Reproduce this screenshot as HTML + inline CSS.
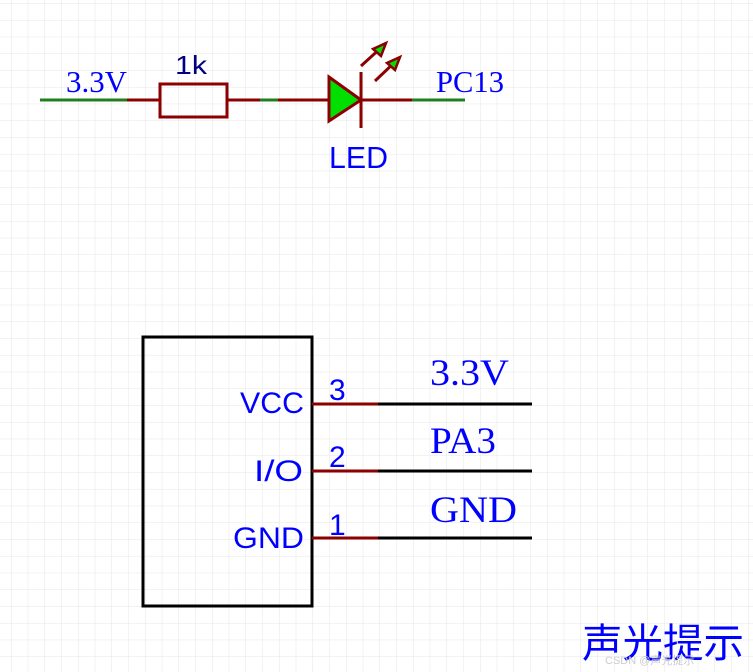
<!DOCTYPE html>
<html><head><meta charset="utf-8"><style>
html,body{margin:0;padding:0;background:#fff;width:753px;height:672px;overflow:hidden}
</style></head><body>
<svg width="753" height="672" xmlns="http://www.w3.org/2000/svg">
<defs><pattern id="g" x="11" y="3.2" width="16.75" height="16.75" patternUnits="userSpaceOnUse">
<path d="M0 0H16.75M0 0V16.75" stroke="#e6e6e6" stroke-width="1" fill="none"/></pattern></defs>
<rect width="753" height="672" fill="url(#g)"/>
<g stroke-width="3" fill="none">
<line x1="40" y1="100" x2="127" y2="100" stroke="#1f7f1f"/>
<line x1="127" y1="100" x2="160" y2="100" stroke="#8b0000"/>
<rect x="160" y="84" width="67" height="33" stroke="#8b0000"/>
<line x1="227" y1="100" x2="260" y2="100" stroke="#8b0000"/>
<line x1="260" y1="100" x2="278" y2="100" stroke="#1f7f1f"/>
<line x1="278" y1="100" x2="329" y2="100" stroke="#8b0000"/>
<line x1="361" y1="100" x2="412" y2="100" stroke="#8b0000"/>
<line x1="412" y1="100" x2="465" y2="100" stroke="#1f7f1f"/>
<line x1="361" y1="72" x2="361" y2="128" stroke="#8b0000"/>
<line x1="361" y1="66" x2="383" y2="46" stroke="#8b0000"/>
<line x1="375" y1="81" x2="397" y2="60" stroke="#8b0000"/>
</g>
<polygon points="329,77 361,100 329,121" fill="#00e000" stroke="#8b0000" stroke-width="3"/>
<polygon points="386,43 381,56 373,49" fill="#00e000" stroke="#8b0000" stroke-width="2.5"/>
<polygon points="400,57 395,70 387,63" fill="#00e000" stroke="#8b0000" stroke-width="2.5"/>
<g font-family="Liberation Serif, serif" fill="#0000ff">
<text x="66" y="92" font-size="31" textLength="61" lengthAdjust="spacingAndGlyphs">3.3V</text>
<text x="436" y="92" font-size="31" textLength="68" lengthAdjust="spacingAndGlyphs">PC13</text>
<text x="430" y="385" font-size="37" textLength="79" lengthAdjust="spacingAndGlyphs">3.3V</text>
<text x="430" y="453" font-size="37" textLength="66" lengthAdjust="spacingAndGlyphs">PA3</text>
<text x="430" y="522" font-size="37" textLength="87" lengthAdjust="spacingAndGlyphs">GND</text>
</g>
<text x="175" y="74" font-family="Liberation Sans, sans-serif" font-size="26" fill="#000080" textLength="32" lengthAdjust="spacingAndGlyphs">1k</text>
<text x="329" y="168" font-family="Liberation Sans, sans-serif" font-size="31" fill="#0000ff" textLength="59" lengthAdjust="spacingAndGlyphs">LED</text>
<rect x="143" y="337" width="169" height="269" fill="none" stroke="#000" stroke-width="3"/>
<g stroke-width="3">
<line x1="312" y1="404" x2="378" y2="404" stroke="#8b0000"/>
<line x1="378" y1="404" x2="532" y2="404" stroke="#000"/>
<line x1="312" y1="471" x2="378" y2="471" stroke="#8b0000"/>
<line x1="378" y1="471" x2="532" y2="471" stroke="#000"/>
<line x1="312" y1="538" x2="378" y2="538" stroke="#8b0000"/>
<line x1="378" y1="538" x2="532" y2="538" stroke="#000"/>
</g>
<g font-family="Liberation Sans, sans-serif" fill="#0000ff" font-size="30">
<text x="240" y="413" textLength="64" lengthAdjust="spacingAndGlyphs">VCC</text>
<text x="254" y="481" textLength="49" lengthAdjust="spacingAndGlyphs">I/O</text>
<text x="233" y="548" textLength="71" lengthAdjust="spacingAndGlyphs">GND</text>
<text x="329" y="400" font-size="30">3</text>
<text x="329" y="467" font-size="30">2</text>
<text x="329" y="535" font-size="30">1</text>
</g>
<text x="582" y="657" font-family="Liberation Sans, 'Noto Sans CJK SC', sans-serif" font-size="40" fill="#0000ff" textLength="162" lengthAdjust="spacingAndGlyphs">声光提示</text>
<text x="605" y="664" font-family="Liberation Sans, 'Noto Sans CJK SC', sans-serif" font-size="11" fill="#cccccc">CSDN @声光提示</text>
</svg>
</body></html>
